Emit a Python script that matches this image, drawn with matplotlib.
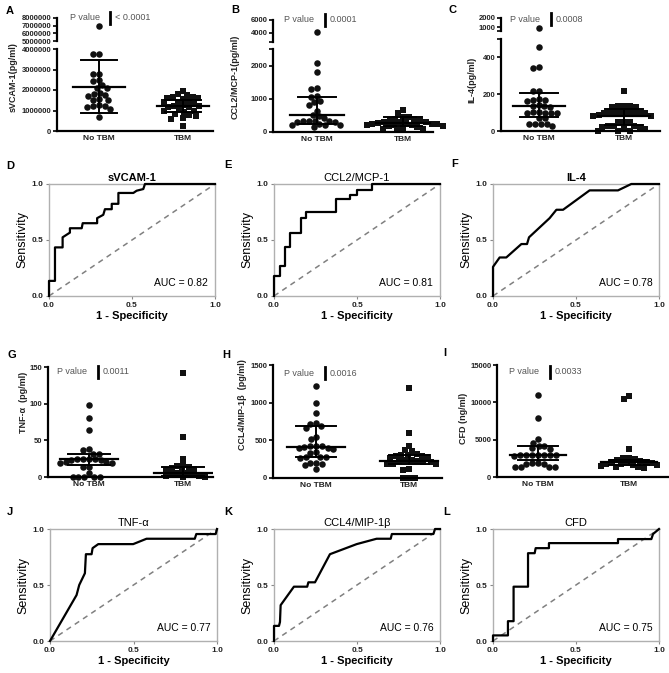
import numpy as np
import matplotlib
matplotlib.use('Agg')
import matplotlib.pyplot as plt
from matplotlib.lines import Line2D

plt.rcParams['font.family'] = ['Liberation Sans', 'DejaVu Sans']

# ---------------- data ----------------
groups = ['No TBM', 'TBM']

A_noTBM = [7.0e6, 3.75e6, 3.78e6, 2.8e6, 2.78e6, 2.5e6, 2.45e6, 2.25e6, 2.1e6, 2.08e6,
           1.85e6, 1.8e6, 1.75e6, 1.7e6, 1.55e6, 1.5e6, 1.5e6, 1.25e6, 1.22e6, 1.2e6,
           1.18e6, 1.05e6, 0.7e6]
A_TBM = [1.97e6, 1.79e6, 1.77e6, 1.66e6, 1.64e6, 1.62e6, 1.6e6, 1.55e6, 1.45e6, 1.43e6,
         1.4e6, 1.3e6, 1.25e6, 1.22e6, 1.2e6, 1.18e6, 1.15e6, 1.05e6, 1.0e6, 0.97e6,
         0.93e6, 0.82e6, 0.78e6, 0.74e6, 0.65e6, 0.6e6, 0.24e6]
A_center = [2.15e6, 1.22e6]
A_low = [0.88e6, 0.95e6]
A_high = [3.46e6, 1.5e6]

B_noTBM = [4100, 2090, 1800, 1320, 1300, 1070, 1050, 920, 900, 820, 640, 520, 470, 420,
           340, 330, 320, 310, 300, 330, 220, 200, 230, 210, 150]
B_TBM = [650, 560, 460, 440, 400, 380, 350, 330, 310, 300, 290, 280, 265, 255, 245, 235,
         225, 215, 205, 190, 175, 150, 120, 100, 80, 60]
B_center = [500, 263]
B_low = [250, 170]
B_high = [1050, 440]

C_noTBM = [950, 455, 350, 340, 218, 215, 172, 170, 168, 165, 140, 138, 135, 132, 102, 100,
           100, 101, 99, 98, 70, 68, 40, 38, 37, 36, 27]
C_TBM = [218, 135, 135, 134, 133, 132, 105, 104, 103, 102, 101, 100, 99, 98, 85, 84, 83,
         50, 50, 49, 27, 26, 25, 24, 23, 10, 9, 0, 0, 0]
C_center = [135, 83]
C_low = [75, 30]
C_high = [204, 120]

G_noTBM = [98, 81, 64, 38, 37, 32, 32, 25, 25, 24, 24, 23, 23, 20, 20, 19, 19, 14, 13, 5,
           0, 0, 0, 0, 0]
G_TBM = [142, 54, 25, 16, 15, 14, 12, 11, 9, 8, 6, 5, 4, 3, 2, 1, 0, 0]
G_center = [24.5, 5]
G_low = [16, 1]
G_high = [32, 14]

H_noTBM = [1220, 1000, 860, 730, 720, 690, 660, 550, 520, 430, 425, 420, 415, 400, 395,
           390, 340, 335, 285, 280, 275, 270, 200, 195, 190, 170, 120]
H_TBM = [1200, 600, 430, 370, 360, 320, 310, 300, 295, 290, 280, 270, 240, 235, 225, 220,
         215, 210, 190, 185, 180, 115, 110, 0, 0, 0]
H_center = [407, 225]
H_low = [283, 180]
H_high = [690, 300]

I_noTBM = [11000, 7900, 5100, 4600, 4200, 4150, 3850, 3800, 3000, 3000, 3000, 2950, 2950,
           2900, 2900, 2800, 1850, 1850, 1800, 1800, 1400, 1380, 1370, 1350]
I_TBM = [10900, 10500, 3800, 2600, 2500, 2400, 2300, 2100, 2000, 1950, 1900, 1850, 1800,
         1700, 1600, 1550, 1500, 1400, 1300, 1200]
I_center = [2950, 1950]
I_low = [2300, 1600]
I_high = [4150, 2300]

p_values = {'A': '< 0.0001', 'B': '0.0001', 'C': '0.0008',
            'G': '0.0011', 'H': '0.0016', 'I': '0.0033'}

# ROC curves
D_fpr = [0, 0, 0.036, 0.036, 0.082, 0.082, 0.126, 0.126, 0.197, 0.203, 0.29, 0.29, 0.327,
         0.337, 0.378, 0.378, 0.418, 0.418, 0.508, 0.528, 0.568, 0.578, 1.0]
D_tpr = [0, 0.135, 0.135, 0.434, 0.434, 0.524, 0.566, 0.605, 0.605, 0.65, 0.65, 0.695,
         0.725, 0.775, 0.775, 0.823, 0.823, 0.92, 0.92, 0.94, 0.955, 1.0, 1.0]
E_fpr = [0, 0, 0.034, 0.034, 0.064, 0.064, 0.095, 0.095, 0.161, 0.161, 0.191, 0.191, 0.376,
         0.376, 0.457, 0.457, 0.497, 0.497, 0.588, 0.588, 1.0]
E_tpr = [0, 0.177, 0.177, 0.266, 0.266, 0.44, 0.44, 0.566, 0.566, 0.695, 0.695, 0.746,
         0.746, 0.865, 0.865, 0.904, 0.904, 0.949, 0.949, 1.0, 1.0]
F_fpr = [0, 0, 0.04, 0.08, 0.171, 0.205, 0.217, 0.341, 0.382, 0.422, 0.582, 0.753, 0.833, 1.0]
F_tpr = [0, 0.26, 0.344, 0.344, 0.464, 0.464, 0.524, 0.695, 0.77, 0.77, 0.943, 0.943, 1.0, 1.0]
J_fpr = [0, 0.159, 0.175, 0.209, 0.215, 0.249, 0.255, 0.289, 0.498, 0.578, 0.867, 0.876,
         0.992, 1.0]
J_tpr = [0, 0.41, 0.5, 0.605, 0.775, 0.775, 0.829, 0.865, 0.865, 0.913, 0.913, 0.955,
         0.955, 1.0]
K_fpr = [0, 0, 0.03, 0.036, 0.04, 0.12, 0.2, 0.207, 0.247, 0.337, 0.498, 0.618, 0.703,
         0.71, 0.96, 0.97, 1.0]
K_tpr = [0, 0.135, 0.135, 0.17, 0.32, 0.485, 0.485, 0.524, 0.524, 0.775, 0.865, 0.913,
         0.913, 0.955, 0.955, 1.0, 1.0]
L_fpr = [0, 0, 0.09, 0.09, 0.124, 0.124, 0.211, 0.211, 0.251, 0.257, 0.337, 0.337, 0.753,
         0.753, 0.954, 0.964, 1.0]
L_tpr = [0, 0.05, 0.05, 0.177, 0.177, 0.485, 0.485, 0.784, 0.784, 0.829, 0.829, 0.874,
         0.874, 0.91, 0.91, 0.955, 1.0]
auc_values = {'D': 0.82, 'E': 0.81, 'F': 0.78, 'J': 0.77, 'K': 0.76, 'L': 0.75}
roc_titles = {'D': 'sVCAM-1', 'E': 'CCL2/MCP-1', 'F': 'IL-4',
              'J': 'TNF-α', 'K': 'CCL4/MIP-1β', 'L': 'CFD'}

# ---------------- layout helpers ----------------
W, H = 669, 673
fig = plt.figure(figsize=(W / 100, H / 100), dpi=100)


def axpx(l, t, r, b):
    return fig.add_axes([l / W, 1 - b / H, (r - l) / W, (b - t) / H])


def ftext(x, y, s, **kw):
    fig.text(x / W, 1 - y / H, s, **kw)


def fline(x0, y0, x1, y1, **kw):
    fig.add_artist(Line2D([x0 / W, x1 / W], [1 - y0 / H, 1 - y1 / H],
                          transform=fig.transFigure, **kw))


def swarm_x(ax, xc, vals, d=5.9):
    vals = np.asarray(vals, float)
    if len(vals) == 0:
        return vals
    pts = ax.transData.transform(np.column_stack([np.full(len(vals), xc), vals]))
    ys = pts[:, 1]
    placed = []
    offs = np.zeros(len(vals))
    for i in np.argsort(-ys):
        y = ys[i]
        cands = [0.0]
        for xo, yo in placed:
            dy = abs(y - yo)
            if dy < d:
                dx = np.sqrt(d * d - dy * dy)
                cands += [xo + dx, xo - dx]
        cands = sorted(cands, key=lambda c: (abs(c), c))
        chosen = cands[-1]
        for c in cands:
            if all((c - xo) ** 2 + (y - yo) ** 2 >= d * d - 1e-6 for xo, yo in placed):
                chosen = c
                break
        offs[i] = chosen
        placed.append((chosen, y))
    ppd = ax.transData.transform((1, 0))[0] - ax.transData.transform((0, 0))[0]
    return xc + offs / ppd


def base_scatter_style(ax, bottom=True):
    ax.spines['top'].set_visible(False)
    ax.spines['right'].set_visible(False)
    ax.spines['left'].set_linewidth(1.6)
    if bottom:
        ax.spines['bottom'].set_linewidth(1.6)
    else:
        ax.spines['bottom'].set_visible(False)
        ax.set_xticks([])
    ax.patch.set_alpha(0)
    ax.tick_params(axis='y', length=3, width=1.2, pad=1)
    ax.tick_params(axis='y', which='minor', length=3, width=1.2)


def scatter_panel(geom, cpx, lower_lim, lticks, llabels, data, center, low, high,
                  upper=None, lower_cap=None):
    L, T, R, B = geom
    c0, c1 = cpx
    span = c1 - c0
    xlim = (-(c0 - L) / span, 1 + (R - c1) / span)
    ax = axpx(L, T, R, B)
    ax.set_xlim(xlim)
    ax.set_ylim(lower_lim)
    base_scatter_style(ax)
    ax.set_yticks(lticks)
    ax.set_yticklabels(llabels, fontsize=5.5, fontweight='bold', color='#222')
    if lower_cap is not None:
        ax.set_yticks([lower_cap], minor=True)
    ax.set_xticks([0, 1])
    ax.set_xticklabels(groups, fontsize=6, fontweight='bold', color='#222')
    ax.tick_params(axis='x', length=0, pad=3)
    axu = None
    if upper is not None:
        uT, uB, ulim, uticks, ulabels, ucap = upper
        axu = axpx(L, uT, R, uB)
        axu.set_xlim(xlim)
        axu.set_ylim(ulim)
        base_scatter_style(axu, bottom=False)
        axu.set_yticks(uticks)
        axu.set_yticklabels(ulabels, fontsize=5.5, fontweight='bold', color='#222')
        if ucap is not None:
            axu.set_yticks([ucap], minor=True)
    for i, (vals, mk) in enumerate(zip(data, ['o', 's'])):
        vals = np.asarray(vals, float)
        m = vals <= lower_lim[1]
        xs = swarm_x(ax, i, vals[m])
        ax.scatter(xs, vals[m], marker=mk, s=22 if mk == 'o' else 19, c='#111',
                   linewidths=0, clip_on=False, zorder=2)
        if axu is not None and (~m).any():
            xs = swarm_x(axu, i, vals[~m])
            axu.scatter(xs, vals[~m], marker=mk, s=22, c='#111', linewidths=0,
                        clip_on=False, zorder=2)
        ax.plot([i - 0.31, i + 0.31], [center[i]] * 2, color='k', lw=1.6, zorder=3)
        ax.plot([i, i], [low[i], high[i]], color='k', lw=1.4, zorder=3)
        for v in (low[i], high[i]):
            ax.plot([i - 0.22, i + 0.22], [v, v], color='k', lw=1.4, zorder=3)
    return ax


def pvalue(xp, xb, y, val):
    ftext(xp, y, 'P value', fontsize=6.5, color='#555', ha='left', va='center')
    fline(xb, y - 6, xb, y + 6, color='k', lw=2)
    ftext(xb + 5, y, val, fontsize=6.5, color='#555', ha='left', va='center')


def roc_panel(geom, fpr, tpr, title, bold_title, auc):
    ax = axpx(*geom)
    ax.plot([0, 1], [0, 1], color='#808080', lw=1.1, ls=(0, (3.5, 3)))
    ax.plot(fpr, tpr, color='k', lw=1.6, clip_on=False, zorder=3)
    ax.set_xlim(0, 1)
    ax.set_ylim(0, 1)
    for s in ax.spines.values():
        s.set_color('#b0b0b0')
        s.set_linewidth(1.0)
    ax.set_xticks([0, 0.5, 1])
    ax.set_xticklabels(['0.0', '0.5', '1.0'], fontsize=6, fontweight='bold', color='#222')
    ax.set_yticks([0, 0.5, 1])
    ax.set_yticklabels(['0.0', '0.5', '1.0'], fontsize=6, fontweight='bold', color='#222')
    ax.tick_params(length=2, width=0.8, color='#888', pad=2)
    ax.set_title(title, fontsize=8, fontweight='bold' if bold_title else 'normal', pad=2)
    ax.text(0.96, 0.12, 'AUC = %.2f' % auc, ha='right', va='center',
            transform=ax.transAxes, fontsize=7.5)
    ax.set_ylabel('Sensitivity', fontsize=9, labelpad=2)
    ax.set_xlabel('1 - Specificity', fontsize=8, fontweight='bold', labelpad=2)
    return ax


# ---------------- row 1 ----------------
scatter_panel((57, 49, 213, 131), (99, 183), (0, 4e6),
              [0, 1e6, 2e6, 3e6, 4e6], ['0', '1000000', '2000000', '3000000', '4000000'],
              [A_noTBM, A_TBM], A_center, A_low, A_high,
              upper=(18, 41, (5e6, 8e6), [5e6, 6e6, 7e6, 8e6],
                     ['5000000', '6000000', '7000000', '8000000'], None))
scatter_panel((273, 49, 433, 132), (317, 403), (0, 2500),
              [0, 1000, 2000], ['0', '1000', '2000'],
              [B_noTBM, B_TBM], B_center, B_low, B_high,
              upper=(20, 42, (2500, 6000), [4000, 6000], ['4000', '6000'], 2500),
              lower_cap=2500)
scatter_panel((501, 39, 660, 131), (539, 624), (0, 500),
              [0, 200, 400], ['0', '200', '400'],
              [C_noTBM, C_TBM], C_center, C_low, C_high,
              upper=(18, 31, (600, 2000), [1000, 2000], ['1000', '2000'], 600),
              lower_cap=500)

ftext(13, 77, 'sVCAM-1(pg/ml)', rotation=90, fontsize=6.5, fontweight='bold', color='#222',
      ha='center', va='center')
ftext(235, 77, 'CCL2/MCP-1(pg/ml)', rotation=90, fontsize=6.5, fontweight='bold',
      color='#222', ha='center', va='center')
ftext(472, 80, 'IL-4(pg/ml)', rotation=90, fontsize=6.5, fontweight='bold', color='#222',
      ha='center', va='center')

pvalue(70, 110, 18, p_values['A'])
pvalue(284, 325, 20, p_values['B'])
pvalue(510, 551, 19, p_values['C'])

# ---------------- row 3 ----------------
scatter_panel((48, 367, 213, 477), (89, 183), (0, 150),
              [0, 50, 100, 150], ['0', '50', '100', '150'],
              [G_noTBM, G_TBM], G_center, G_low, G_high)
scatter_panel((273, 365, 442, 478), (316, 409), (0, 1500),
              [0, 500, 1000, 1500], ['0', '500', '1000', '1500'],
              [H_noTBM, H_TBM], H_center, H_low, H_high)
scatter_panel((497, 365, 668, 477), (538, 629), (0, 15000),
              [0, 5000, 10000, 15000], ['0', '5000', '10000', '15000'],
              [I_noTBM, I_TBM], I_center, I_low, I_high)

ftext(24, 402, 'TNF-α  (pg/ml)', rotation=90, fontsize=6.5, fontweight='bold', color='#222',
      ha='center', va='center')
ftext(242, 405, 'CCL4/MIP-1β  (pg/ml)', rotation=90, fontsize=6.5, fontweight='bold',
      color='#222', ha='center', va='center')
ftext(463, 418, 'CFD (ng/ml)', rotation=90, fontsize=6.5, fontweight='bold', color='#222',
      ha='center', va='center')

pvalue(57, 98, 372, p_values['G'])
pvalue(284, 325, 373, p_values['H'])
pvalue(509, 550, 372, p_values['I'])

# ---------------- ROC rows ----------------
roc_panel((49, 184, 215, 296), D_fpr, D_tpr, roc_titles['D'], True, auc_values['D'])
roc_panel((274, 184, 440, 296), E_fpr, E_tpr, roc_titles['E'], False, auc_values['E'])
roc_panel((493, 184, 659, 296), F_fpr, F_tpr, roc_titles['F'], True, auc_values['F'])
roc_panel((50, 529, 217, 641), J_fpr, J_tpr, roc_titles['J'], False, auc_values['J'])
roc_panel((274, 529, 440, 641), K_fpr, K_tpr, roc_titles['K'], False, auc_values['K'])
roc_panel((493, 529, 659, 641), L_fpr, L_tpr, roc_titles['L'], False, auc_values['L'])

# ---------------- panel letters ----------------
letters = [('A', 10, 11), ('B', 235, 10), ('C', 453, 10),
           ('D', 10, 166), ('E', 228, 165), ('F', 455, 164),
           ('G', 12, 355), ('H', 226, 355), ('I', 445, 353),
           ('J', 10, 512), ('K', 228, 512), ('L', 447, 512)]
for s, x, y in letters:
    ftext(x, y, s, fontsize=8, fontweight='bold', ha='center', va='center')

fig.savefig('out.png', dpi=100)
